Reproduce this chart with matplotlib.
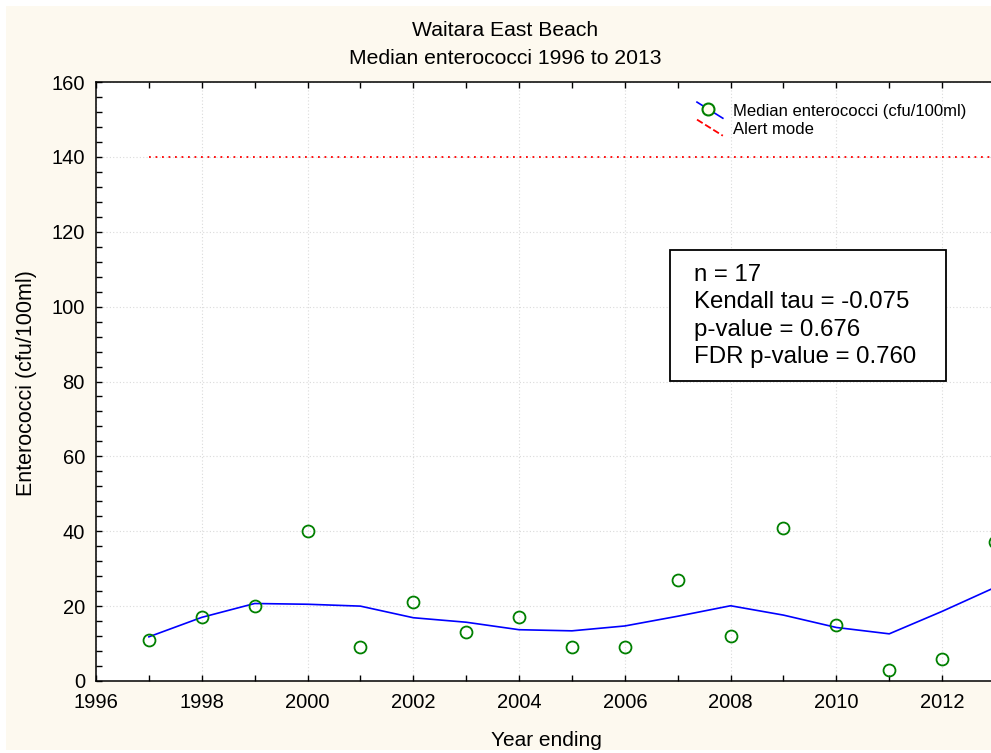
import matplotlib
matplotlib.use("Agg")
import matplotlib.pyplot as plt
from matplotlib.lines import Line2D
from matplotlib.legend_handler import HandlerBase
from matplotlib.patches import Rectangle
from matplotlib.ticker import MultipleLocator

plt.rcParams['font.family'] = ['Liberation Sans', 'DejaVu Sans']

years = [1997, 1998, 1999, 2000, 2001, 2002, 2003, 2004, 2005, 2006, 2007,
         2008, 2009, 2010, 2011, 2012, 2013]
median_ent = [11, 17, 20, 40, 9, 21, 13, 17, 9, 9, 27, 12, 41, 15, 3, 6, 37]
smooth = [11.8, 17.0, 20.7, 20.5, 20.0, 16.9, 15.7, 13.7, 13.4, 14.7, 17.3,
          20.1, 17.6, 14.3, 12.6, 18.6, 25.0]
alert_years = [1997, 2013]
alert_level = [140, 140]
x_ticks = [1996, 1998, 2000, 2002, 2004, 2006, 2008, 2010, 2012]
y_ticks = [0, 20, 40, 60, 80, 100, 120, 140, 160]
title_lines = ["Waitara East Beach", "Median enterococci 1996 to 2013"]
stats_lines = ["n = 17", "Kendall tau = -0.075", "p-value = 0.676",
               "FDR p-value = 0.760"]

W, H = 991, 753
fig = plt.figure(figsize=(W / 100, H / 100), dpi=100, facecolor='white')
fig.patches.append(Rectangle((6 / W, 3 / H), (W - 6) / W, (H - 9) / H,
                             transform=fig.transFigure, facecolor='#FDF9EF',
                             edgecolor='none', zorder=-10))

ax = fig.add_axes([96 / W, (H - 681) / H, (995 - 96) / W, (681 - 82) / H])
ax.set_facecolor('white')
ax.set_xlim(1996, 2013)
ax.set_ylim(0, 160)
ax.set_xticks(x_ticks)
ax.set_yticks(y_ticks)
ax.xaxis.set_minor_locator(MultipleLocator(1))
ax.yaxis.set_minor_locator(MultipleLocator(4))
ax.tick_params(which='both', direction='in', top=True, right=False,
               width=1.0, colors='black', labelsize=14.5)
ax.tick_params(which='major', length=4, pad=9)
ax.tick_params(which='minor', length=4)
ax.tick_params(axis='y', pad=8)
for s in ax.spines.values():
    s.set_linewidth(1.1)
ax.grid(True, which='major', color='#DADADA', linestyle=(0, (1, 2)), lw=0.8)
ax.set_axisbelow(True)

line_sm, = ax.plot(years, smooth, color='#0000FF', lw=1.2, zorder=3)
ax.plot(years, median_ent, linestyle='none', marker='o', markersize=8.6,
        markerfacecolor='none', markeredgecolor='#008000',
        markeredgewidth=1.3, zorder=4, clip_on=False)
alert, = ax.plot(alert_years, alert_level, color='#FF0000', lw=1.3,
                 linestyle=(0, (1, 2.6)), zorder=3)

fig.text(505 / W, 1 - 31 / H, title_lines[0], ha='center', va='center',
         fontsize=15.2)
fig.text(505 / W, 1 - 58 / H, title_lines[1], ha='center', va='center',
         fontsize=15.2)
fig.text(546 / W, 1 - 740 / H, 'Year ending', ha='center', va='center',
         fontsize=15)
fig.text(27 / W, 1 - 383 / H, 'Enterococci (cfu/100ml)', ha='center',
         va='center', rotation=90, fontsize=15.5)

# stats box
fig.patches.append(Rectangle((670 / W, 1 - 381 / H), (946 - 670) / W,
                             (381 - 250) / H, transform=fig.transFigure,
                             facecolor='white', edgecolor='black', lw=1.3,
                             zorder=5))
for i, t in enumerate(stats_lines):
    fig.text(694 / W, 1 - (275 + i * 27.5) / H, t, ha='left', va='center',
             fontsize=17.3, zorder=6)


class DiagHandler(HandlerBase):
    def create_artists(self, legend, orig_handle, xdescent, ydescent, width,
                       height, fontsize, trans):
        x0, x1 = -xdescent, -xdescent + width
        yc = -ydescent + height / 2
        dy = 5.8
        ln = Line2D([x0, x1], [yc + dy, yc - dy],
                    color=orig_handle.get_color(),
                    linestyle=orig_handle.get_linestyle(),
                    lw=orig_handle.get_linewidth())
        ln.set_transform(trans)
        arts = [ln]
        if getattr(orig_handle, 'show_marker', False):
            mk = Line2D([(x0 + x1) / 2 - 1.5], [yc + 0.8], marker='o',
                        markersize=8.6, markerfacecolor='#FFFFEE',
                        markeredgecolor='#008000', markeredgewidth=1.5,
                        linestyle='none')
            mk.set_transform(trans)
            arts.append(mk)
        return arts


line_sm.show_marker = True
leg = fig.legend([line_sm, alert],
                 ['Median enterococci (cfu/100ml)', 'Alert mode'],
                 loc='upper left', bbox_to_anchor=(697 / W, 1 - 104 / H),
                 frameon=False, fontsize=12, handlelength=1.55,
                 handletextpad=0.6, labelspacing=0.15, borderpad=0,
                 borderaxespad=0,
                 handler_map={Line2D: DiagHandler()})

fig.savefig('out.png', dpi=100, facecolor='white')
